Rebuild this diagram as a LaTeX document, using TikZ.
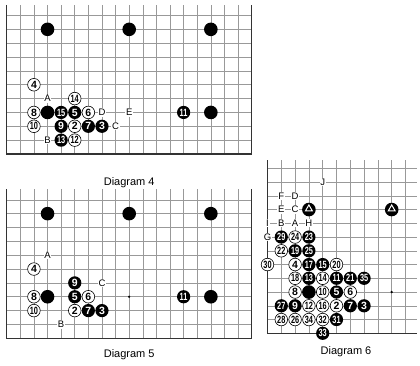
\documentclass[tikz,border=0pt]{standalone}
\usepackage{fontspec}
\usepackage{graphicx}
\setmainfont{Liberation Sans}
\usetikzlibrary{shapes.geometric}
\newcommand\stn[1]{\ifnum#1>9 \scalebox{0.7}[1]{#1}\else #1\fi}
\begin{document}
\begin{tikzpicture}[x=1pt,y=1pt,
  gridl/.style={draw=black!40,line width=0.55pt},
  edgel/.style={draw=black!80,line width=1.4pt},
  bplain/.style={circle,fill=black,minimum size=13.6pt,inner sep=0pt},
  bnum/.style={circle,fill=black,minimum size=13.2pt,inner sep=0pt,text=white,font=\bfseries\fontsize{10.5}{10.5}\selectfont},
  wnum/.style={circle,draw=black,line width=0.6pt,fill=white,minimum size=12.6pt,inner sep=0pt,font=\bfseries\fontsize{10.5}{10.5}\selectfont},
  lab/.style={fill=white,inner sep=0.8pt,font=\fontsize{9.5}{9.5}\selectfont},
  captxt/.style={font=\fontsize{11}{11}\selectfont},
  hoshi/.style={circle,fill=black,minimum size=2.6pt,inner sep=0pt},
  tri/.style={regular polygon,regular polygon sides=3,draw=white,line width=1pt,minimum size=8pt,inner sep=0pt}]
\useasboundingbox (0,0) rectangle (420,366);

% ---------------- Diagram 4 ----------------
\begin{scope}[shift={(-6.91pt,198.15pt)},x=13.61pt,y=13.85pt]
  \foreach \c in {2,...,18} \draw[gridl] (\c,1) -- (\c,11.76);
  \foreach \r in {2,...,11} \draw[gridl] (1,\r) -- (19,\r);
  \draw[edgel] (1,11.76) -- (1,1) -- (19,1) -- (19,11.76);
  \foreach \c/\r [count=\i] in {4/10,10/10,16/10,4/4,16/4}
    \node[bplain] (d4p\i) at (\c,\r) {};
  \foreach \c/\r/\n in {5/4/15,6/4/5,5/3/9,7/3/7,8/3/3,5/2/13,14/4/11}
    \node[bnum] (d4m\n) at (\c,\r) {\stn{\n}};
  \foreach \c/\r/\n in {3/6/4,6/5/14,3/4/8,7/4/6,3/3/10,6/3/2,6/2/12}
    \node[wnum] (d4m\n) at (\c,\r) {\stn{\n}};
  \foreach \c/\r/\t in {4/5/A,8/4/D,10/4/E,9/3/C,4/2/B}
    \node[lab] (d4l\t) at (\c,\r) {\t};
  \node[captxt] (cap4) at (10,-1.05) {Diagram 4};
\end{scope}

% ---------------- Diagram 5 ----------------
\begin{scope}[shift={(-6.91pt,13.85pt)},x=13.61pt,y=13.85pt]
  \foreach \c in {2,...,18} \draw[gridl] (\c,1) -- (\c,11.76);
  \foreach \r in {2,...,11} \draw[gridl] (1,\r) -- (19,\r);
  \draw[edgel] (1,11.76) -- (1,1) -- (19,1) -- (19,11.76);
  \node[hoshi] (d5h) at (10,4) {};
  \foreach \c/\r [count=\i] in {4/10,10/10,16/10,4/4,16/4}
    \node[bplain] (d5p\i) at (\c,\r) {};
  \foreach \c/\r/\n in {6/5/9,6/4/5,7/3/7,8/3/3,14/4/11}
    \node[bnum] (d5m\n) at (\c,\r) {\stn{\n}};
  \foreach \c/\r/\n in {3/6/4,3/4/8,7/4/6,3/3/10,6/3/2}
    \node[wnum] (d5m\n) at (\c,\r) {\stn{\n}};
  \foreach \c/\r/\t in {4/7/A,8/5/C,5/2/B}
    \node[lab] (d5l\t) at (\c,\r) {\t};
  \node[captxt] (cap5) at (10,-0.15) {Diagram 5};
\end{scope}

% ---------------- Diagram 6 ----------------
\begin{scope}[shift={(253.7pt,18.95pt)},x=13.8pt,y=13.75pt]
  \foreach \c in {2,...,11} \draw[gridl] (\c,1) -- (\c,13.6);
  \foreach \r in {2,...,13} \draw[gridl] (1,\r) -- (11.83,\r);
  \draw[edgel] (1,13.6) -- (1,1) -- (11.83,1);
  \node[hoshi] (d6h) at (10,4) {};
  \node[bplain] (d6p1) at (4,4) {};
  \node[bplain] (d6t1) at (4,10) {};
  \node[bplain] (d6t2) at (10,10) {};
  \node[tri] (d6r1) at ([yshift=0.6pt]d6t1.center) {};
  \node[tri] (d6r2) at ([yshift=0.6pt]d6t2.center) {};
  \foreach \c/\r/\n in {2/8/29,4/8/23,3/7/19,4/7/25,4/6/17,5/6/15,4/5/13,6/5/11,7/5/21,8/5/35,6/4/5,2/3/27,3/3/9,7/3/7,8/3/3,6/2/31,5/1/33}
    \node[bnum] (d6m\n) at (\c,\r) {\stn{\n}};
  \foreach \c/\r/\n in {3/8/24,2/7/22,1/6/30,3/6/4,6/6/20,3/5/18,5/5/14,3/4/8,5/4/10,7/4/6,4/3/12,5/3/16,6/3/2,2/2/28,3/2/26,4/2/34,5/2/32}
    \node[wnum] (d6m\n) at (\c,\r) {\stn{\n}};
  \foreach \c/\r/\t in {5/12/J,2/11/F,3/11/D,2/10/E,3/10/C,1/9/I,2/9/B,3/9/A,4/9/H,1/8/G}
    \node[lab] (d6l\t) at (\c,\r) {\t};
\end{scope}
\node[captxt] (cap6) at (346,14) {Diagram 6};
\end{tikzpicture}
\end{document}
